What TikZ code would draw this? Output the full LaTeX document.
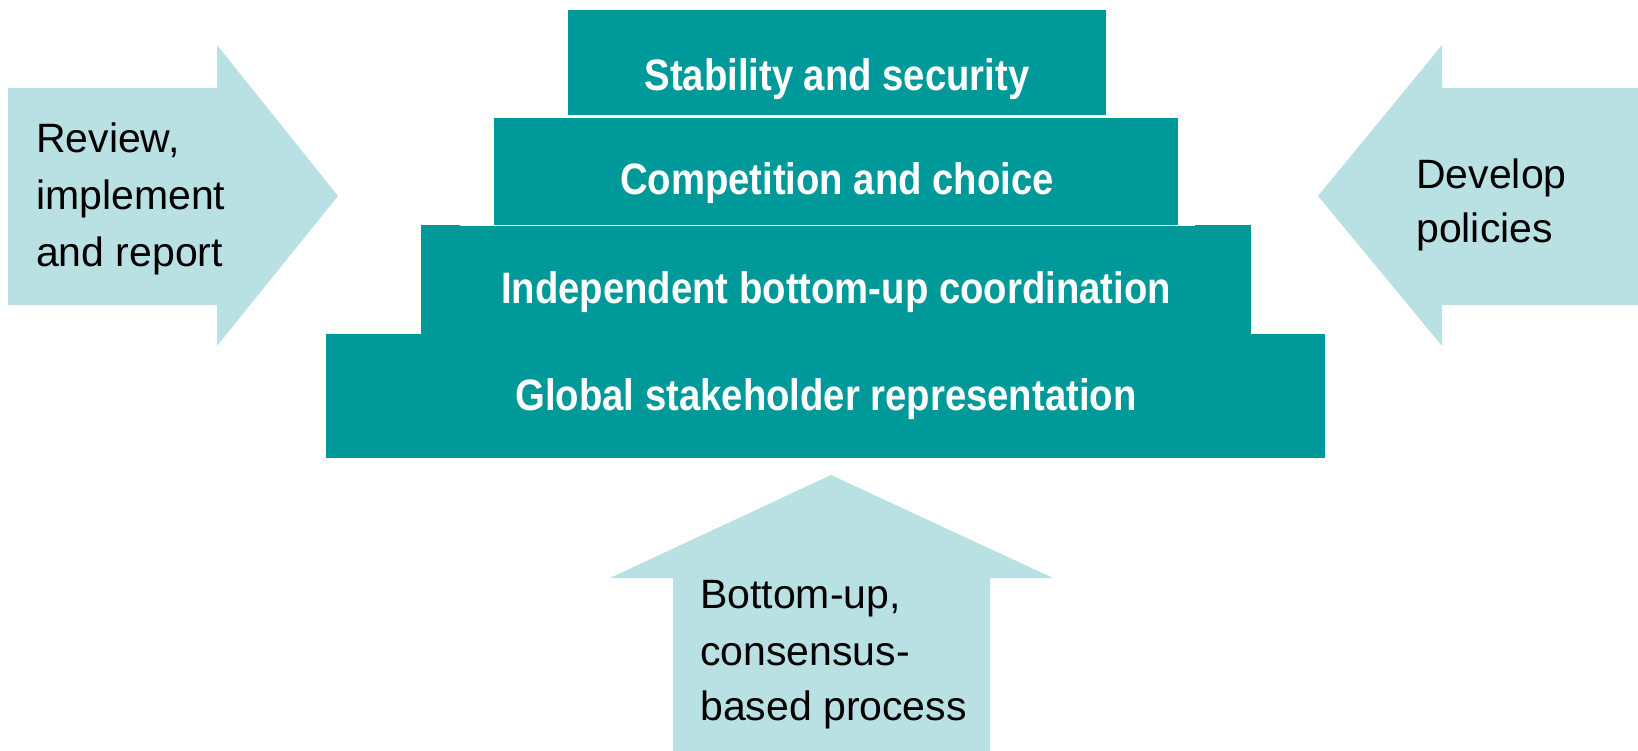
\documentclass[tikz,border=0pt]{standalone}
\usepackage{fontspec}
\setmainfont{Liberation Sans}
\newfontfamily\boxfont[FakeStretch=0.87]{Liberation Sans}
\definecolor{teal1}{RGB}{0,153,153}
\definecolor{pale}{RGB}{185,224,227}
\tikzset{
  tier/.style={fill=teal1, draw=none},
  bigarrow/.style={fill=pale, draw=none},
  tiertext/.style={inner sep=0pt, anchor=base, text=white, font=\boxfont\bfseries\fontsize{44}{50}\selectfont},
  lbl/.style={inner sep=0pt, anchor=base west, text=black, font=\fontsize{41}{56}\selectfont},
}
\begin{document}
\begin{tikzpicture}[x=1pt,y=-1pt]
\useasboundingbox (0,0) rectangle (1638,751);
% arrows
\path[bigarrow] (8,88) -- (217,88) -- (217,45) -- (338,196) -- (217,346) -- (217,305) -- (8,305) -- cycle;
\path[bigarrow] (1638,88) -- (1442,88) -- (1442,45) -- (1318,196) -- (1442,346) -- (1442,305) -- (1638,305) -- cycle;
\path[bigarrow] (673,751) -- (673,578) -- (610,578) -- (831,475) -- (1053,578) -- (990,578) -- (990,751) -- cycle;
% tiers
\path[tier] (568,10) rectangle (1106,115);
\path[tier] (494,118) rectangle (1178,225);
\path[tier] (421,225) rectangle (1251,334);
\path[tier] (326,334) rectangle (1325,458);
\draw[white, line width=1.5pt] (460,225.5) -- (1195,225.5);
% tier texts
\node[tiertext] (t1) at (837,91) {Stability and security};
\node[tiertext] (t2) at (837,195) {Competition and choice};
\node[tiertext] (t3) at (836,304) {Independent bottom-up coordination};
\node[tiertext] (t4) at (826,410) {Global stakeholder representation};
% left arrow text
\node[lbl] (l1) at (36,153) {Review,};
\node[lbl] (l2) at (36,210) {implement};
\node[lbl] (l3) at (36,267) {and report};
% right arrow text
\node[lbl] (r1) at (1416,189) {Develop};
\node[lbl] (r2) at (1416,243) {policies};
% bottom arrow text
\node[lbl] (b1) at (700,608) {Bottom-up,};
\node[lbl] (b2) at (700,665) {consensus-};
\node[lbl] (b3) at (700,720) {based process};
\end{tikzpicture}
\end{document}
